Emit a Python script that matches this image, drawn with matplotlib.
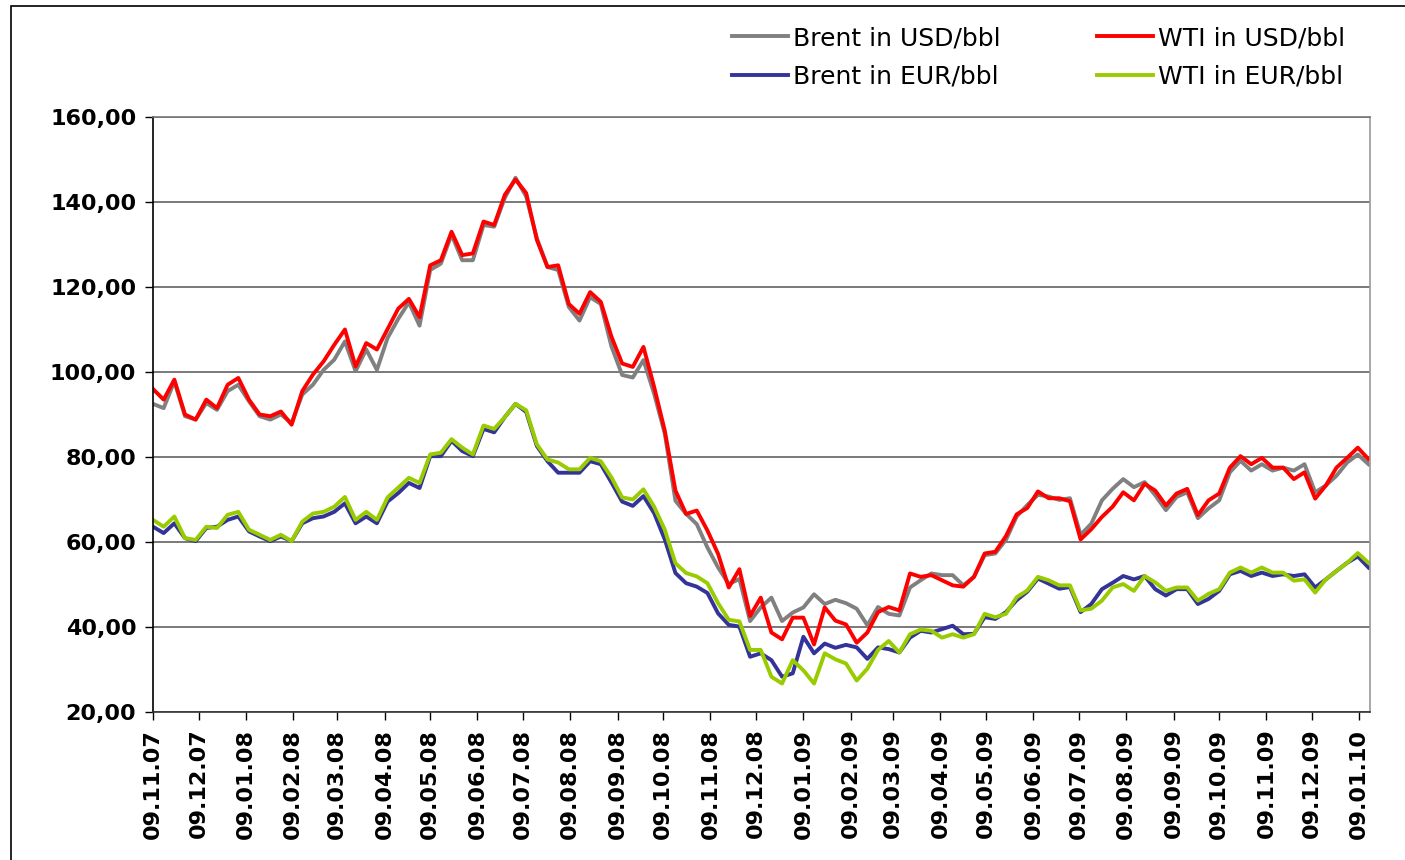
import matplotlib as mpl
mpl.use('Agg')
import matplotlib.pyplot as plt
import matplotlib.dates as mdates
from matplotlib.patches import Rectangle
import numpy as np
import pandas as pd

# weekly readings (Fridays), 09.11.07 .. 15.01.10
dates = pd.date_range('2007-11-09', periods=115, freq='7D')

brent_usd = [92.5, 91.5, 97.8, 89.6, 88.8, 92.7, 91.1, 95.5, 97.0, 93.1,
             89.6, 88.8, 90.0, 88.0, 94.7, 97.0, 100.5, 102.9, 107.2, 100.2,
             105.3, 100.5, 108.0, 112.5, 116.4, 110.9, 124.0, 125.5, 132.3, 126.3,
             126.3, 134.6, 134.2, 141.0, 145.7, 141.3, 131.5, 124.7, 124.0, 115.3,
             112.1, 117.6, 116.0, 106.0, 99.3, 98.7, 102.8, 94.9, 85.5, 69.7,
             66.6, 64.2, 58.7, 54.0, 50.1, 51.3, 41.4, 44.6, 46.9, 41.4,
             43.4, 44.6, 47.7, 45.4, 46.4, 45.6, 44.3, 40.4, 44.7, 43.1,
             42.7, 49.3, 51.0, 52.6, 52.2, 52.2, 49.8, 51.8, 56.9, 57.3,
             60.5, 66.0, 68.7, 71.1, 70.7, 69.9, 70.3, 61.7, 64.3, 69.8,
             72.5, 74.8, 72.9, 74.1, 71.0, 67.5, 70.6, 71.7, 65.6, 67.9,
             69.8, 76.4, 79.1, 76.8, 78.3, 76.8, 77.5, 76.8, 78.3, 71.7,
             73.3, 75.6, 78.7, 80.6, 78.3]

wti_usd = [96.0, 93.5, 98.2, 90.0, 88.8, 93.5, 91.5, 97.0, 98.6, 93.5,
           90.0, 89.6, 90.7, 87.6, 95.5, 99.4, 102.5, 106.4, 110.0, 101.3,
           106.8, 105.3, 110.1, 114.9, 117.2, 112.9, 125.1, 126.3, 133.0, 127.5,
           127.9, 135.4, 134.6, 141.7, 145.3, 142.1, 131.1, 124.7, 125.1, 116.0,
           113.7, 118.8, 116.5, 108.3, 102.0, 101.2, 105.9, 96.5, 86.2, 72.1,
           66.6, 67.4, 62.7, 57.2, 49.3, 53.6, 42.6, 46.9, 38.7, 37.1,
           42.2, 42.2, 35.9, 44.6, 41.5, 40.6, 36.3, 38.7, 43.5, 44.7,
           43.9, 52.6, 51.8, 52.2, 51.0, 49.8, 49.5, 51.8, 57.3, 57.7,
           61.4, 66.5, 68.0, 71.9, 70.3, 70.3, 69.6, 60.6, 63.0, 65.9,
           68.3, 71.7, 69.8, 73.7, 72.1, 68.6, 71.4, 72.5, 66.3, 69.8,
           71.4, 77.5, 80.2, 78.3, 79.8, 77.5, 77.5, 74.8, 76.4, 70.2,
           73.3, 77.5, 79.8, 82.2, 79.5]

brent_eur = [63.6, 62.1, 64.4, 60.9, 60.2, 63.3, 63.6, 65.2, 66.0, 62.5,
             61.3, 60.2, 61.3, 60.2, 64.4, 65.6, 66.0, 67.1, 69.1, 64.4,
             66.0, 64.4, 69.5, 71.5, 73.9, 72.7, 80.2, 80.2, 83.8, 81.4,
             80.2, 86.6, 85.8, 89.4, 92.5, 90.6, 82.6, 79.0, 76.3, 76.3,
             76.3, 79.0, 78.3, 74.0, 69.5, 68.5, 70.8, 66.8, 60.6, 52.7,
             50.3, 49.5, 48.0, 43.2, 40.5, 40.1, 33.0, 33.8, 32.2, 28.3,
             29.1, 37.7, 33.8, 36.1, 35.1, 35.8, 35.2, 32.5, 35.2, 34.8,
             34.0, 37.5, 39.1, 38.7, 39.5, 40.3, 38.3, 38.4, 42.3, 41.9,
             43.5, 46.3, 48.3, 51.4, 50.2, 49.0, 49.4, 43.5, 45.4, 48.9,
             50.4, 52.0, 51.2, 52.0, 48.9, 47.4, 48.9, 48.9, 45.4, 46.6,
             48.5, 52.4, 53.2, 52.0, 52.8, 52.0, 52.4, 52.0, 52.4, 49.3,
             51.2, 53.2, 55.1, 56.6, 54.0]

wti_eur = [65.2, 63.6, 66.0, 60.9, 60.5, 63.6, 63.3, 66.4, 67.1, 62.9,
           61.7, 60.5, 61.7, 60.2, 64.8, 66.7, 67.1, 68.3, 70.6, 65.2,
           67.1, 65.2, 70.5, 72.8, 75.1, 73.9, 80.6, 81.0, 84.2, 82.2,
           80.6, 87.4, 86.6, 89.4, 92.5, 91.0, 83.0, 79.4, 78.7, 77.1,
           77.1, 79.8, 79.0, 75.2, 70.5, 70.0, 72.4, 68.3, 62.9, 55.0,
           52.7, 51.9, 50.3, 45.6, 41.7, 41.3, 34.6, 34.6, 28.3, 26.7,
           32.2, 29.8, 26.7, 33.8, 32.4, 31.4, 27.4, 30.2, 34.6, 36.7,
           34.0, 38.3, 39.4, 39.1, 37.5, 38.3, 37.5, 38.3, 43.1, 42.3,
           43.1, 47.0, 48.6, 51.8, 51.0, 49.8, 49.8, 43.9, 44.3, 46.2,
           49.3, 50.1, 48.5, 52.0, 50.5, 48.5, 49.3, 49.3, 46.2, 47.8,
           48.9, 52.8, 54.0, 52.8, 54.0, 52.8, 52.8, 50.9, 51.2, 48.1,
           51.2, 53.2, 55.1, 57.4, 55.1]

labels = ['Brent in USD/bbl', 'Brent in EUR/bbl', 'WTI in USD/bbl', 'WTI in EUR/bbl']

fig = plt.figure(figsize=(14.05, 8.6), dpi=100)
ax = fig.add_axes([153/1405, 148/860, 1217/1405, 595/860])

lw = 2.8
l1, = ax.plot(dates, brent_usd, color='#808080', lw=lw)
l2, = ax.plot(dates, wti_usd, color='#ff0000', lw=lw)
l3, = ax.plot(dates, brent_eur, color='#333399', lw=lw)
l4, = ax.plot(dates, wti_eur, color='#99cc00', lw=lw)

ax.set_ylim(20, 160)
ax.set_yticks(np.arange(20, 161, 20))
ax.yaxis.set_major_formatter(mpl.ticker.FuncFormatter(lambda v, p: f'{v:.2f}'.replace('.', ',')))
ax.set_xlim(pd.Timestamp('2007-11-09'), pd.Timestamp('2010-01-16'))
ticks = pd.date_range('2007-11-09', '2010-01-09', freq='MS') + pd.Timedelta(days=8)
ticks = [pd.Timestamp('2007-11-09')] + list(ticks)
ax.set_xticks(ticks)
ax.xaxis.set_major_formatter(mdates.DateFormatter('%d.%m.%y'))

ax.grid(axis='y', color='#555555', lw=1.1)
ax.set_axisbelow(True)
ax.tick_params(axis='both', direction='out', length=6, width=1, labelsize=16, pad=6)
ax.tick_params(axis='x', labelrotation=90)
for lab in ax.get_xticklabels() + ax.get_yticklabels():
    lab.set_fontweight('bold')
ax.spines['left'].set_color('black')
ax.spines['bottom'].set_color('#333333')
ax.spines['top'].set_color('#777777')
ax.spines['right'].set_color('#999999')
for s in ax.spines.values():
    s.set_linewidth(1.2)

fig.legend([l1, l3, l2, l4], labels, ncol=2, loc='upper left',
           bbox_to_anchor=(732/1405, 1 - 26/860), frameon=False, fontsize=18,
           handlelength=2.25, handletextpad=0.2, columnspacing=3.85,
           labelspacing=0.58, borderpad=0, borderaxespad=0)

fig.add_artist(Rectangle((11/1405, -0.1), 2, 1.1 - 6/860, transform=fig.transFigure,
                         fill=False, lw=1.2, edgecolor='black'))

fig.savefig('out.png', dpi=100)
